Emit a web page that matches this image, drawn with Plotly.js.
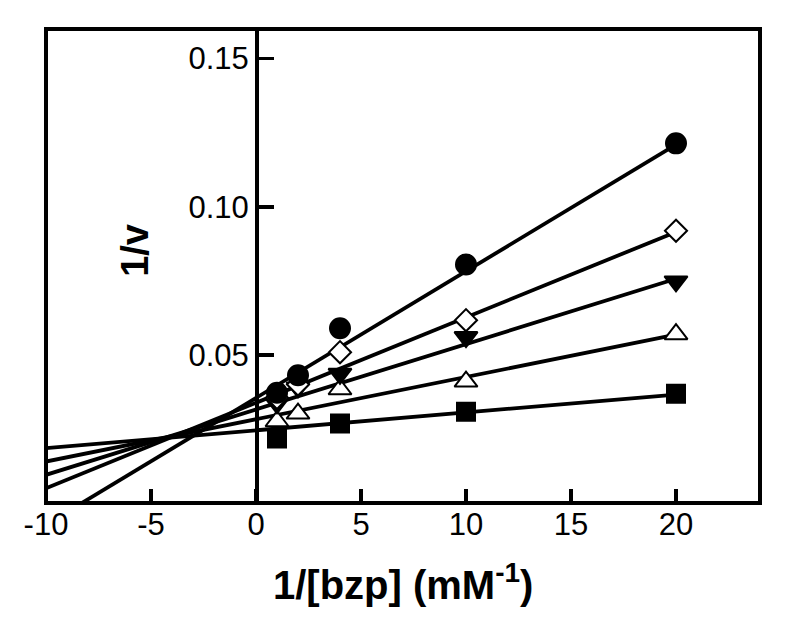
<!DOCTYPE html>
<html>
<head>
<meta charset="utf-8">
<script src="https://cdn.plot.ly/plotly-3.0.1.min.js"></script>
<style>html,body{margin:0;padding:0;background:#fff;}#chart{width:800px;height:624px;}</style>
</head>
<body>
<div id="chart"></div>
<script>
// Measured data points (x = 1/[bzp], y = 1/v)
const xCircle = [1, 2, 4, 10, 20];
const yCircle = [0.0372, 0.0431, 0.0590, 0.0805, 0.1214];
const xDiamond = [1, 2, 4, 10, 20];
const yDiamond = [0.0355, 0.0400, 0.0509, 0.0617, 0.0919];
const xDown = [1, 2, 4, 10, 20];
const yDown = [0.0336, 0.0390, 0.0436, 0.0560, 0.0748];
const xUp = [1, 2, 4, 10, 20];
const yUp = [0.0276, 0.0302, 0.0384, 0.0410, 0.0570];
const xSquare = [1, 4, 10, 20];
const ySquare = [0.0218, 0.0268, 0.0308, 0.0369];

// Fitted lines, end values
const lineX = [-10, 20];
const lineCircle = [-0.0073, 0.1210];
const lineDiamond = [0.0050, 0.0915];
const lineDown = [0.0095, 0.0757];
const lineUp = [0.0140, 0.0568];
const lineSquare = [0.0185, 0.0366];

const xTicks = [-10, -5, 0, 5, 10, 15, 20];
const yTicks = [0.05, 0.10, 0.15];

const FONT = 'Liberation Sans, Arial, sans-serif';
const lineStyle = {color: '#000', width: 3.8};

function fitLine(y) {
  return {x: lineX, y: y, mode: 'lines', line: lineStyle, hoverinfo: 'skip', showlegend: false};
}
function pts(x, y, symbol, fill, size) {
  return {x: x, y: y, mode: 'markers', showlegend: false,
    marker: {symbol: symbol, size: size, color: fill, line: {color: '#000', width: 2}}};
}

const traces = [
  fitLine(lineCircle), fitLine(lineDiamond), fitLine(lineDown), fitLine(lineUp), fitLine(lineSquare),
  pts(xSquare, ySquare, 'square', '#000', 18),
  pts(xUp, yUp, 'triangle-up', '#fff', 20),
  pts(xDown, yDown, 'triangle-down', '#000', 20),
  pts(xDiamond, yDiamond, 'diamond', '#fff', 17),
  pts(xCircle, yCircle, 'circle', '#000', 20)
];

const layout = {
  width: 800, height: 624,
  margin: {l: 46, r: 40, t: 29, b: 121},
  paper_bgcolor: '#fff', plot_bgcolor: '#fff',
  font: {family: FONT, color: '#000', size: 31},
  xaxis: {
    range: [-10, 24], tickvals: xTicks, ticktext: xTicks.map(String),
    ticks: 'inside', ticklen: 14, tickwidth: 3.5, tickcolor: '#000',
    showgrid: false, zeroline: false, showline: false,
    tickfont: {family: FONT, size: 31, color: '#000'}
  },
  yaxis: {
    range: [0, 0.16], tickvals: yTicks, tickformat: '.2f',
    anchor: 'free', position: 10 / 34, side: 'left',
    ticks: 'inside', ticklen: 15, tickwidth: 3.5, tickcolor: '#000',
    showline: true, linewidth: 3.5, linecolor: '#000',
    showgrid: false, zeroline: false,
    tickfont: {family: FONT, size: 31, color: '#000'}
  },
  shapes: [{type: 'rect', xref: 'paper', yref: 'paper', x0: 0, x1: 1, y0: 0, y1: 1,
    line: {color: '#000', width: 4}, fillcolor: 'rgba(0,0,0,0)'}],
  annotations: [
    {text: '<b>1/[bzp] (mM<sup>-1</sup>)</b>', xref: 'paper', yref: 'paper', x: 0.5, y: -0.11,
     xanchor: 'center', yanchor: 'top', showarrow: false, font: {family: FONT, size: 40, color: '#000'}},
    {text: '<b>1/v</b>', xref: 'paper', yref: 'paper', x: 0.1246, y: 0.534, textangle: -90,
     xanchor: 'center', yanchor: 'middle', showarrow: false, font: {family: FONT, size: 38, color: '#000'}}
  ]
};

Plotly.newPlot('chart', traces, layout, {displayModeBar: false, staticPlot: true});
</script>
</body>
</html>
